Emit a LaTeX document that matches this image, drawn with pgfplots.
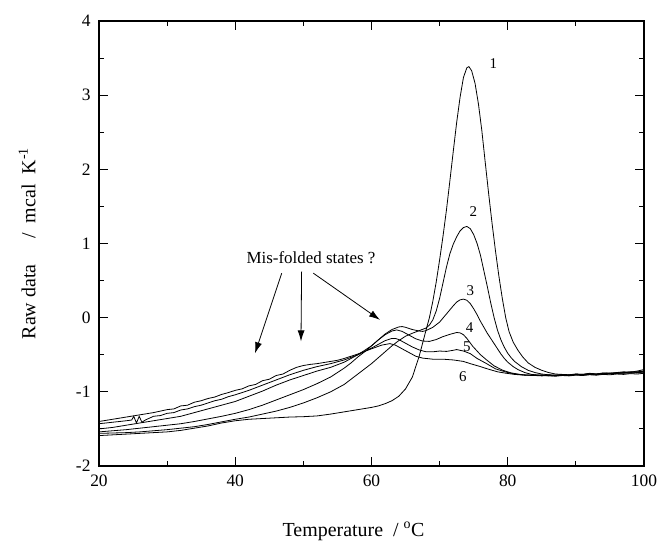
\documentclass[border=0pt]{standalone}
\usepackage{fontspec}
\setmainfont{Liberation Serif}
\usepackage{pgfplots}
\pgfplotsset{compat=1.18}
\usetikzlibrary{arrows.meta}
\begin{document}
\begin{tikzpicture}
\path[use as bounding box] (-99bp,-75bp) rectangle (559bp,466bp);
\begin{axis}[
 at={(0,0)}, anchor=south west,
 scale only axis, width=545bp, height=445bp,
 xmin=20, xmax=100, ymin=-2, ymax=4,
 xtick={20,40,60,80,100}, ytick={-2,-1,0,1,2,3,4},
 xticklabels={20,40,60,80,100}, yticklabels={-2,-1,0,1,2,3,4},
 minor x tick num=1, minor y tick num=1,
 tick align=inside,
 major tick length=9bp, minor tick length=5bp,
 axis line style={line width=1.6bp},
 every tick/.style={black, line width=1bp},
 ticklabel style={font=\fontsize{17.5}{20}\selectfont},
 xticklabel style={yshift=-5bp},
 yticklabel style={xshift=-5bp},
 xlabel={Temperature\ \ / \textsuperscript{o}C},
 ylabel={Raw data\hspace{1.3em}/\ \ mcal\ \ K\textsuperscript{-1}},
 label style={font=\fontsize{20}{23}\selectfont},
 xlabel style={at={(axis description cs:0.467,-0.147)}, anchor=center},
 ylabel style={at={(axis description cs:-0.132,0.5)}, anchor=center},
 clip=false,
]
% curve 1
\addplot[black, line width=0.8bp] coordinates {(20,-1.59)(22,-1.58)(24,-1.57)(26,-1.56)(28,-1.55)(30,-1.54)(32,-1.52)(34,-1.49)(36,-1.46)(38,-1.42)(40,-1.39)(42,-1.37)(44,-1.36)(46,-1.35)(48,-1.34)(50,-1.335)(52,-1.325)(54,-1.30)(56,-1.27)(58,-1.24)(60,-1.21)(61,-1.19)(62,-1.16)(63,-1.12)(64,-1.06)(65,-0.96)(66,-0.80)(67,-0.52)(68,-0.17)(68.5,0.0)(69,0.22)(69.5,0.48)(70,0.78)(70.5,1.10)(71,1.45)(71.5,1.84)(72,2.24)(72.5,2.63)(73,2.97)(73.5,3.24)(74,3.37)(74.3,3.385)(74.7,3.33)(75.2,3.16)(75.7,2.88)(76.2,2.52)(76.7,2.09)(77.2,1.67)(77.7,1.27)(78.2,0.90)(78.7,0.56)(79.2,0.26)(79.7,0.0)(80.2,-0.19)(80.8,-0.33)(81.5,-0.44)(82.2,-0.53)(83,-0.61)(84,-0.67)(85,-0.71)(86,-0.74)(87,-0.76)(88,-0.765)(89,-0.77)(90,-0.76)(91,-0.765)(92,-0.755)(93,-0.76)(94,-0.75)(95,-0.745)(96,-0.75)(97,-0.74)(98,-0.735)(99,-0.73)(100,-0.72)};
% curve 2
\addplot[black, line width=0.8bp] coordinates {(20,-1.56)(22,-1.555)(24,-1.55)(26,-1.54)(28,-1.525)(30,-1.51)(32,-1.49)(34,-1.47)(36,-1.44)(38,-1.405)(40,-1.37)(42,-1.34)(44,-1.30)(46,-1.26)(48,-1.21)(50,-1.15)(52,-1.08)(54,-1.00)(56,-0.90)(58,-0.76)(59,-0.69)(60,-0.62)(61,-0.54)(62,-0.46)(63,-0.38)(64,-0.31)(65,-0.25)(66,-0.21)(67,-0.175)(68,-0.14)(68.5,-0.10)(69,-0.03)(69.5,0.09)(70,0.26)(70.5,0.47)(71,0.68)(71.5,0.86)(72,0.99)(72.5,1.09)(73,1.17)(73.5,1.215)(74,1.23)(74.5,1.20)(75,1.12)(75.5,1.00)(76,0.84)(76.5,0.63)(77,0.42)(77.5,0.20)(78,0.0)(78.5,-0.17)(79,-0.30)(79.5,-0.40)(80,-0.48)(80.5,-0.54)(81,-0.59)(82,-0.66)(83,-0.71)(84,-0.74)(85,-0.76)(86,-0.77)(87,-0.775)(88,-0.77)(89,-0.78)(90,-0.765)(91,-0.77)(92,-0.76)(93,-0.765)(94,-0.755)(95,-0.76)(96,-0.745)(97,-0.75)(98,-0.74)(99,-0.745)(100,-0.73)};
% curve 3
\addplot[black, line width=0.8bp] coordinates {(20,-1.54)(22,-1.525)(24,-1.51)(26,-1.49)(28,-1.47)(30,-1.45)(32,-1.43)(34,-1.40)(36,-1.365)(38,-1.33)(40,-1.29)(42,-1.24)(44,-1.18)(46,-1.11)(48,-1.04)(50,-0.97)(52,-0.89)(54,-0.80)(56,-0.68)(57,-0.61)(58,-0.53)(59,-0.46)(60,-0.38)(61,-0.30)(62,-0.22)(63,-0.16)(64,-0.125)(64.5,-0.12)(65,-0.13)(66,-0.16)(67,-0.18)(67.5,-0.185)(68,-0.175)(69,-0.13)(70,-0.06)(71,0.05)(72,0.16)(72.5,0.21)(73,0.24)(73.5,0.25)(74,0.235)(74.5,0.19)(75,0.12)(75.5,0.04)(76,-0.05)(76.5,-0.13)(77,-0.21)(77.5,-0.28)(78,-0.35)(78.5,-0.42)(79,-0.49)(79.5,-0.55)(80,-0.60)(80.8,-0.66)(81.5,-0.70)(82.5,-0.74)(83.5,-0.765)(84.5,-0.775)(85.5,-0.78)(86.5,-0.785)(88,-0.775)(89,-0.78)(90,-0.77)(91,-0.775)(92,-0.765)(93,-0.77)(94,-0.76)(95,-0.75)(96,-0.755)(97,-0.745)(98,-0.75)(99,-0.74)(100,-0.745)};
% curve 4
\addplot[black, line width=0.8bp] coordinates {(20,-1.50)(22,-1.48)(24,-1.45)(26,-1.42)(28,-1.39)(30,-1.36)(32,-1.33)(34,-1.28)(36,-1.23)(38,-1.18)(40,-1.13)(42,-1.06)(44,-0.99)(46,-0.91)(48,-0.84)(50,-0.78)(52,-0.72)(54,-0.67)(56,-0.60)(58,-0.50)(59,-0.44)(60,-0.38)(61,-0.30)(62,-0.23)(63,-0.18)(63.7,-0.165)(64.5,-0.185)(65.5,-0.235)(66.5,-0.285)(67.5,-0.315)(68.5,-0.32)(69.5,-0.295)(70.5,-0.255)(71.5,-0.225)(72.5,-0.20)(73,-0.205)(73.5,-0.23)(74,-0.28)(74.9,-0.39)(76,-0.50)(76.9,-0.57)(78,-0.65)(79.3,-0.71)(80.5,-0.745)(81.8,-0.765)(83,-0.775)(84,-0.78)(85,-0.785)(86,-0.78)(87,-0.79)(88,-0.78)(89,-0.785)(90,-0.775)(91,-0.78)(92,-0.77)(93,-0.775)(94,-0.765)(95,-0.77)(96,-0.76)(97,-0.765)(98,-0.755)(99,-0.76)(100,-0.75)};
% curve 5
\addplot[black, line width=0.8bp] coordinates {(20,-1.43)(22,-1.41)(24,-1.39)(24.8,-1.38)(25.1,-1.33)(25.5,-1.42)(25.9,-1.33)(26.3,-1.41)(26.8,-1.38)(28,-1.33)(29,-1.32)(30,-1.29)(31,-1.28)(32,-1.245)(33,-1.23)(34,-1.20)(35,-1.18)(36,-1.15)(37,-1.12)(38,-1.10)(39,-1.065)(40,-1.04)(42,-0.98)(44,-0.91)(46,-0.84)(48,-0.77)(50,-0.71)(52,-0.66)(54,-0.62)(56,-0.57)(58,-0.50)(60,-0.41)(61,-0.36)(62,-0.31)(63,-0.28)(63.5,-0.28)(64,-0.295)(65,-0.345)(66,-0.395)(67,-0.435)(68,-0.46)(69,-0.46)(70,-0.45)(71,-0.455)(72,-0.44)(72.5,-0.43)(73.5,-0.45)(74.5,-0.485)(75.5,-0.55)(76.9,-0.62)(78.2,-0.69)(79.8,-0.735)(81,-0.76)(82.5,-0.775)(84,-0.78)(85,-0.77)(86,-0.785)(87,-0.775)(88,-0.78)(89,-0.77)(90,-0.765)(91,-0.77)(92,-0.755)(93,-0.76)(94,-0.75)(95,-0.755)(96,-0.74)(97,-0.745)(98,-0.73)(99,-0.735)(100,-0.72)};
% curve 6
\addplot[black, line width=0.8bp] coordinates {(20,-1.40)(22,-1.37)(24,-1.34)(26,-1.31)(28,-1.28)(30,-1.24)(31,-1.23)(32,-1.19)(33,-1.18)(34,-1.14)(35,-1.12)(36,-1.09)(37,-1.07)(38,-1.035)(39,-1.01)(40,-0.98)(41,-0.96)(42,-0.92)(43,-0.90)(44,-0.85)(45,-0.83)(46,-0.78)(47,-0.76)(48,-0.71)(49,-0.67)(50,-0.645)(51,-0.63)(52,-0.62)(53,-0.605)(54,-0.59)(55,-0.575)(56,-0.55)(58,-0.49)(60,-0.42)(61.5,-0.37)(62.7,-0.35)(63.5,-0.37)(64.5,-0.42)(65.5,-0.47)(66.5,-0.52)(67.5,-0.545)(69,-0.56)(70.5,-0.56)(72,-0.57)(73.5,-0.59)(74.5,-0.62)(76,-0.66)(77,-0.69)(78.5,-0.73)(79.8,-0.75)(81,-0.765)(82.5,-0.775)(84,-0.77)(85,-0.78)(86,-0.77)(87,-0.78)(88,-0.765)(89,-0.775)(90,-0.76)(91,-0.765)(92,-0.75)(93,-0.76)(94,-0.745)(95,-0.75)(96,-0.74)(97,-0.73)(98,-0.735)(99,-0.72)(100,-0.70)};
% curve labels
\begin{scope}[every node/.style={font=\fontsize{15}{17}\selectfont, inner sep=0pt}]
\node at (axis cs:77.9,3.43) {1};
\node at (axis cs:74.95,1.43) {2};
\node at (axis cs:74.5,0.36) {3};
\node at (axis cs:74.4,-0.135) {4};
\node at (axis cs:74.0,-0.39) {5};
\node at (axis cs:73.4,-0.80) {6};
\end{scope}
% annotation
\node[font=\fontsize{17}{19}\selectfont, inner sep=0pt] at (axis cs:51.12,0.805) {Mis-folded states ?};
\draw[-{Latex[length=11bp,width=7bp]}, line width=0.8bp] (axis cs:46.82,0.60) -- (axis cs:42.9,-0.48);
\draw[-{Latex[length=11bp,width=7bp]}, line width=0.8bp] (axis cs:49.74,0.62) -- (axis cs:49.65,-0.32);
\draw[-{Latex[length=11bp,width=7bp]}, line width=0.8bp] (axis cs:51.46,0.60) -- (axis cs:61.25,-0.03);
\end{axis}
\end{tikzpicture}
\end{document}
